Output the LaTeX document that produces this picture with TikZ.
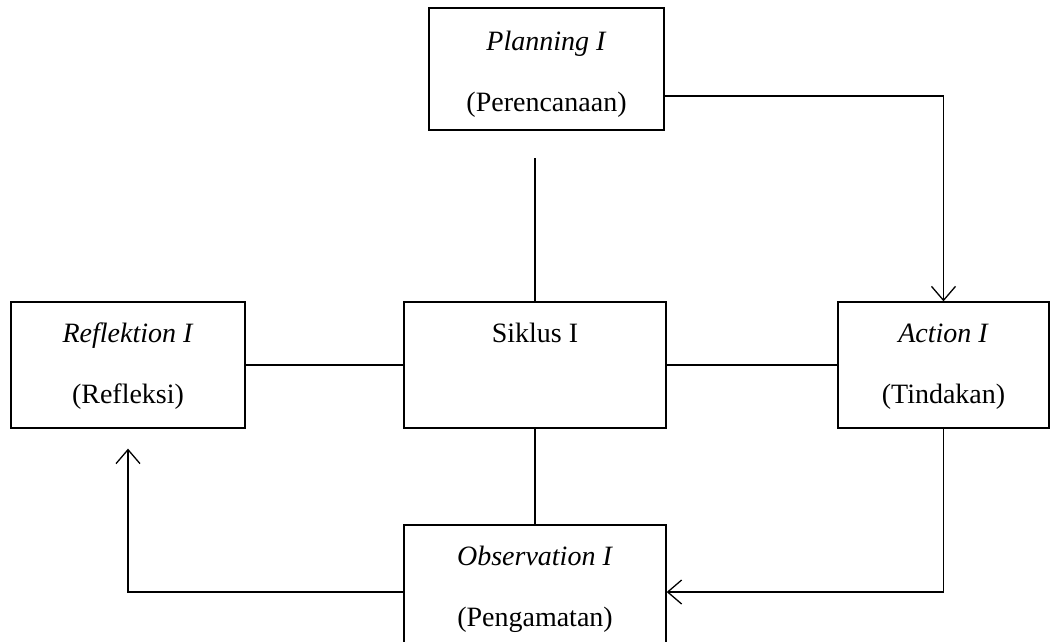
\documentclass[tikz,border=0pt]{standalone}
\usepackage{fontspec}
\setmainfont{Liberation Serif}
\usetikzlibrary{arrows.meta}
\pgfdeclarelayer{edgelayer}
\pgfdeclarelayer{nodelayer}
\pgfsetlayers{edgelayer,nodelayer,main}
\tikzstyle{none}=[inner sep=0pt]
\tikzstyle{stage_box}=[draw=black,line width=1.3pt,fill=white,align=center,inner sep=0pt,font=\fontsize{28}{61}\selectfont,text height=101pt,text depth=25pt]
\tikzstyle{link}=[draw=black,line width=1.3pt]
\tikzstyle{flow}=[-{Straight Barb[length=14pt,width=24pt,line width=1.3pt]},draw=black,line width=1.3pt]

\begin{document}
\begin{tikzpicture}[x=1pt,y=-1pt]
	\useasboundingbox (0,0) rectangle (1061,641);
	\begin{pgfonlayer}{nodelayer}
		\node [style={stage_box}, minimum width=235pt, text height=103pt, text depth=19pt] (plan) at (546.5, 69) {\textit{Planning I}\\(Perencanaan)};
		\node [style={stage_box}, minimum width=234pt] (refl) at (128, 365) {\textit{Reflektion I}\\(Refleksi)};
		\node [style={stage_box}, minimum width=262pt] (siklus) at (535, 365) {Siklus I\\\strut};
		\node [style={stage_box}, minimum width=211pt] (act) at (943.5, 365) {\textit{Action I}\\(Tindakan)};
		\node [style={stage_box}, minimum width=262pt] (obs) at (535, 588) {\textit{Observation I}\\(Pengamatan)};
		\coordinate (stub) at (535, 158);
	\end{pgfonlayer}
	\begin{pgfonlayer}{edgelayer}
		\draw [style=link] (stub) to (siklus.north);
		\draw [style=link] (refl.east) to (siklus.west);
		\draw [style=link] (siklus.east) to (act.west);
		\draw [style=link] (siklus.south) to (obs.north);
		\draw [style=flow] ([yshift=-27pt]plan.east) -| (act.north);
		\draw [style=flow] (act.south) |- ([yshift=-4pt]obs.east);
		\draw [style=flow] ([yshift=-4pt]obs.west) -| ([yshift=-20pt]refl.south);
	\end{pgfonlayer}
\end{tikzpicture}
\end{document}
